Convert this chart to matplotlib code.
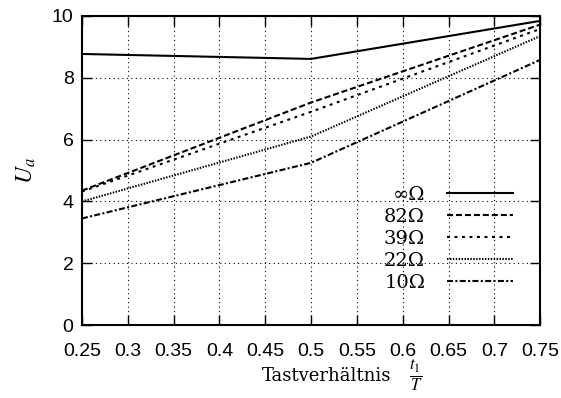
import numpy as np
import matplotlib
matplotlib.use('Agg')
import matplotlib.pyplot as plt

# duty cycle t1/T and output voltage for each load
duty = [0.25, 0.5, 0.75]
u_inf = [8.77, 8.61, 9.84]
u_82 = [4.35, 7.20, 9.72]
u_39 = [4.32, 6.90, 9.58]
u_22 = [4.00, 6.10, 9.35]
u_10 = [3.45, 5.25, 8.58]
labels = ['∞Ω', '82Ω', '39Ω', '22Ω', '10Ω']
xticks = [0.25, 0.3, 0.35, 0.4, 0.45, 0.5, 0.55, 0.6, 0.65, 0.7, 0.75]
yticks = [0, 2, 4, 6, 8, 10]

plt.rcParams['mathtext.fontset'] = 'stix'

fig = plt.figure(figsize=(5.61, 3.98), dpi=100)
ax = fig.add_axes([0.146, 0.183, 0.817, 0.777])

styles = ['-', (0, (2.9, 1.4)), (0, (1.4, 2.2)), (0, (0.7, 0.7)), (0, (2.9, 1.1, 1.0, 1.1))]
series = [u_inf, u_82, u_39, u_22, u_10]
for y, lab, ls in zip(series, labels, styles):
    ax.plot(duty, y, color='black', lw=1.5, linestyle=ls, label=lab)

ax.set_xlim(0.25, 0.75)
ax.set_ylim(0, 10)
ax.set_xticks(xticks)
ax.set_xticklabels([f'{v:g}' for v in xticks], family='Liberation Sans')
ax.set_yticks(yticks)
ax.set_yticklabels([str(v) for v in yticks], family='Liberation Sans')
ax.tick_params(direction='in', length=7, width=1, top=True, right=True,
               labelsize=14, colors='black')
ax.tick_params(axis='x', pad=13)
ax.tick_params(axis='y', pad=6)
for s in ax.spines.values():
    s.set_linewidth(1.5)
ax.grid(True, color='black', linestyle=(0, (1, 3)), linewidth=0.8)

# label text plus a larger fraction t1/T right of it
ax.set_xlabel('Tastverhältnis', family='DejaVu Serif', fontsize=13)
ax.xaxis.set_label_coords(0.534, -0.135)
ax.annotate(r'$\frac{t_1}{T}$', xy=(1, 0.45), xycoords=ax.xaxis.label,
            xytext=(13, 0), textcoords='offset points', ha='left', va='center',
            fontsize=17)
ax.set_ylabel(r'$U_a$', fontsize=17, labelpad=10)

leg = ax.legend(loc='lower right', bbox_to_anchor=(0.961, 0.077), frameon=False,
                markerfirst=False, handlelength=3.4,
                labelspacing=0.2, handletextpad=1.1, borderpad=0.0,
                prop={'family': 'DejaVu Serif', 'size': 14})
for t in leg.get_texts():
    t.set_ha('right')

fig.savefig('out.png', dpi=100)
